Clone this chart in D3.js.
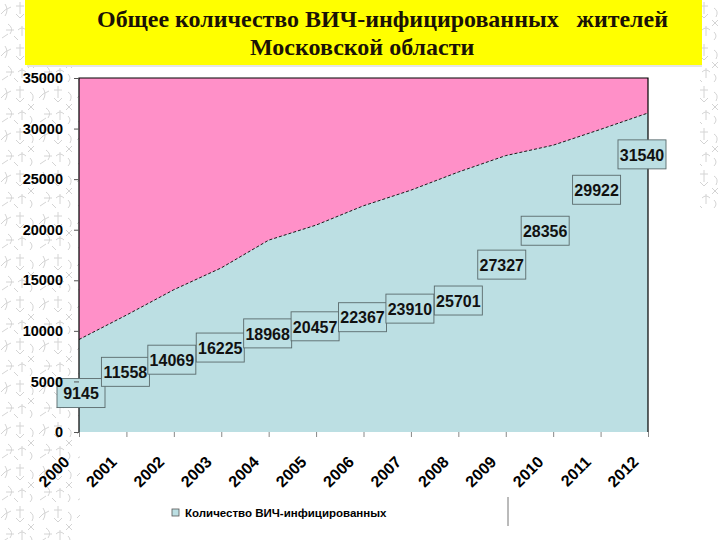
<!DOCTYPE html>
<html>
<head>
<meta charset="utf-8">
<script src="https://cdn.jsdelivr.net/npm/d3@7"></script>
<style>
    body { margin: 0; background: #fff; }
    #chart { width: 720px; height: 540px; }
</style>
</head>
<body>
<div id="chart"></div>
<script>
// Данные графика
const years = ['2000', '2001', '2002', '2003', '2004', '2005', '2006', '2007', '2008', '2009', '2010', '2011', '2012'];
const infected = [9145, 11558, 14069, 16225, 18968, 20457, 22367, 23910, 25701, 27327, 28356, 29922, 31540];
const yTicks = [0, 5000, 10000, 15000, 20000, 25000, 30000, 35000];
// где стоят подписи значений: уровень по оси Y и сдвиг по X в пикселях
const labelLevels = [3800, 5900, 7100, 8300, 9700, 10400, 11300, 12150, 12950, 16500, 19850, 23900, 27400];
const labelShift = [2, -1, -2, -1, -1, -1, -1, -1, 0, -4, -8, -4, -6];
const titleLines = ['Общее количество ВИЧ-инфицированных   жителей', 'Московской области'];
const legendLabel = 'Количество ВИЧ-инфицированных';

const width = 720, height = 540;
const plot = { left: 79, right: 648, top: 78, bottom: 432 };

const svg = d3.select('#chart')
    .append('svg')
    .attr('width', width)
    .attr('height', height);

// фоновый узор слева и справа
const defs = svg.append('defs');
const pat = defs.append('pattern')
    .attr('id', 'sketch')
    .attr('width', 38)
    .attr('height', 42)
    .attr('patternUnits', 'userSpaceOnUse');
pat.append('path')
    .attr('d', 'M5 4 q4 6 0 12 M5 10 l6 -3 M5 10 l-4 4 M20 2 l0 12 M16 6 l8 0 M16 14 l4 4 l4 -4 ' +
               'M30 8 q5 3 2 9 M28 20 l6 6 M34 20 l-6 6 M8 24 q6 4 2 10 M6 30 l8 0 M14 36 l4 4 ' +
               'M22 26 l0 10 M18 30 q4 -4 8 0 M30 32 q4 4 0 8 M2 38 l6 -4')
    .attr('fill', 'none')
    .attr('stroke', '#d4d4d4')
    .attr('stroke-width', 1);

svg.append('rect').attr('x', 0).attr('y', 0).attr('width', 80).attr('height', height).attr('fill', 'url(#sketch)');
svg.append('rect').attr('x', 700).attr('y', 0).attr('width', 20).attr('height', 210).attr('fill', 'url(#sketch)');

// заголовок на жёлтой плашке
svg.append('rect')
    .attr('x', 27).attr('y', 2).attr('width', 675).attr('height', 65)
    .attr('fill', '#e6e6e6');
svg.append('rect')
    .attr('x', 25).attr('y', 0).attr('width', 677).attr('height', 65)
    .attr('fill', '#ffff00');

svg.append('text')
    .attr('x', 97).attr('y', 27)
    .attr('xml:space', 'preserve')
    .attr('textLength', 571)
    .attr('lengthAdjust', 'spacingAndGlyphs')
    .attr('font-family', '"Liberation Serif", "Times New Roman", serif')
    .attr('font-weight', 'bold')
    .attr('font-size', 24)
    .attr('fill', '#1a1206')
    .text(titleLines[0]);
svg.append('text')
    .attr('x', 250).attr('y', 55)
    .attr('font-family', '"Liberation Serif", "Times New Roman", serif')
    .attr('font-weight', 'bold')
    .attr('font-size', 24)
    .attr('fill', '#1a1206')
    .text(titleLines[1]);

// шкалы
const x = d3.scalePoint().domain(years).range([plot.left, plot.right]);
const y = d3.scaleLinear().domain([0, 35000]).range([plot.bottom, plot.top]);

// розовый фон области построения
svg.append('rect')
    .attr('x', plot.left).attr('y', plot.top)
    .attr('width', plot.right - plot.left).attr('height', plot.bottom - plot.top)
    .attr('fill', '#ff90c8');

// площадь
const area = d3.area()
    .x((d, i) => x(years[i]))
    .y0(y(0))
    .y1(d => y(d));
svg.append('path')
    .datum(infected)
    .attr('d', area)
    .attr('fill', '#bcdfe3');

const line = d3.line()
    .x((d, i) => x(years[i]))
    .y(d => y(d));
svg.append('path')
    .datum(infected)
    .attr('d', line)
    .attr('fill', 'none')
    .attr('stroke', '#1a1a1a')
    .attr('stroke-width', 1)
    .attr('stroke-dasharray', '3,2');

// рамка
svg.append('path')
    .attr('d', `M${plot.left},${plot.bottom} V${plot.top} H${plot.right} V${plot.bottom}`)
    .attr('fill', 'none')
    .attr('stroke', '#000')
    .attr('stroke-width', 1.2);

// подписи значений в рамках
const labels = svg.append('g')
    .selectAll('g')
    .data(infected)
    .join('g')
    .attr('transform', (d, i) => `translate(${x(years[i]) + labelShift[i]},${y(labelLevels[i])})`);
labels.append('rect')
    .attr('x', -24).attr('y', -15)
    .attr('width', 48).attr('height', 29)
    .attr('fill', '#bcdfe3')
    .attr('stroke', '#5a6a6c')
    .attr('stroke-width', 0.9);
labels.append('text')
    .attr('text-anchor', 'middle')
    .attr('dy', '0.36em')
    .attr('font-family', 'Arial, "Liberation Sans", sans-serif')
    .attr('font-weight', 'bold')
    .attr('font-size', 16)
    .attr('fill', '#111')
    .text(d => d);

// ось Y (поверх подписей, как в оригинале)
const yAxis = svg.append('g')
    .attr('transform', `translate(${plot.left},0)`)
    .call(d3.axisLeft(y).tickValues(yTicks).tickSize(5).tickPadding(11).tickFormat(d3.format('d')));
yAxis.select('.domain').remove();
yAxis.selectAll('line').attr('stroke', '#555');
yAxis.selectAll('text')
    .attr('font-family', 'Arial, "Liberation Sans", sans-serif')
    .attr('font-weight', 'bold')
    .attr('font-size', 14.5)
    .attr('fill', '#000');

// ось X
const xAxis = svg.append('g')
    .attr('transform', `translate(0,${plot.bottom})`)
    .call(d3.axisBottom(x).tickSize(5));
xAxis.select('.domain').remove();
xAxis.selectAll('line').attr('stroke', '#888');
xAxis.selectAll('text')
    .attr('x', 0).attr('y', 0).attr('dy', '0.35em')
    .attr('text-anchor', 'end')
    .attr('transform', 'translate(-13,27) rotate(-45)')
    .attr('font-family', 'Arial, "Liberation Sans", sans-serif')
    .attr('font-weight', 'bold')
    .attr('font-size', 16)
    .attr('fill', '#000');

// легенда
svg.append('rect')
    .attr('x', 172).attr('y', 509).attr('width', 7).attr('height', 7)
    .attr('fill', '#bcdfe3')
    .attr('stroke', '#555')
    .attr('stroke-width', 0.8);
svg.append('text')
    .attr('x', 185).attr('y', 517)
    .attr('font-family', 'Arial, "Liberation Sans", sans-serif')
    .attr('font-weight', 'bold')
    .attr('font-size', 11.5)
    .attr('fill', '#000')
    .text(legendLabel);
svg.append('line')
    .attr('x1', 508).attr('x2', 508)
    .attr('y1', 497).attr('y2', 526)
    .attr('stroke', '#777');
</script>
</body>
</html>
